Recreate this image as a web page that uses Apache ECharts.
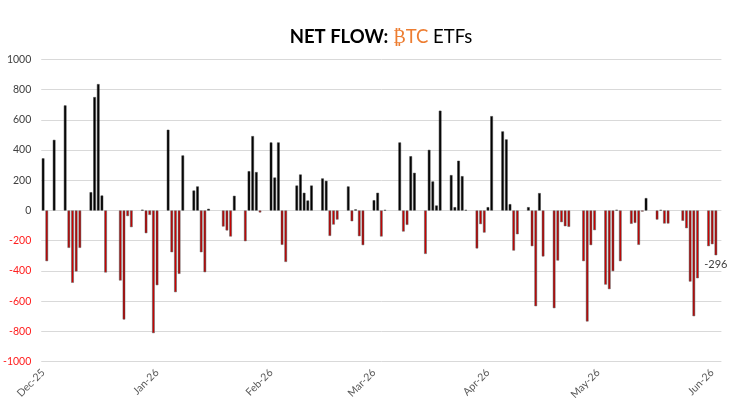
<!DOCTYPE html>
<html>
<head>
<meta charset="utf-8">
<script src="https://cdn.jsdelivr.net/npm/echarts@6/dist/echarts.min.js"></script>
<style>
  html, body { margin: 0; padding: 0; background: #fff; }
  #chart { width: 744px; height: 412px; }
</style>
</head>
<body>
<div id="chart"></div>
<script>
// first calendar day on the axis, and how many days it spans
const startDate = "2025-12-01";
const dayCount = 185;

// day offset (from startDate) of each bar, and its net flow in $M
const dayOffsets = [
  0, 1, 3, 6, 7, 8, 9, 10, 13, 14, 15, 16, 17, 21, 22, 23, 24, 27, 28, 29, 30, 31,
  34, 35, 36, 37, 38, 41, 42, 43, 44, 45, 49, 50, 51, 52, 55, 56, 57, 58, 59,
  62, 63, 64, 65, 66, 69, 70, 71, 72, 73, 76, 77, 78, 79, 80, 83, 84, 85, 86, 87,
  90, 91, 92, 93, 97, 98, 99, 100, 101, 104, 105, 106, 107, 108, 111, 112, 113, 114, 115,
  118, 119, 120, 121, 122, 125, 126, 127, 128, 129, 132, 133, 134, 135, 136,
  139, 140, 141, 142, 143, 147, 148, 149, 150, 153, 154, 155, 156, 157,
  160, 161, 162, 163, 164, 167, 168, 169, 170, 174, 175, 176, 177, 178, 181, 182, 183,
];
const netFlow = [
  345, -335, 467, 695, -247, -478, -403, -247, 121, 750, 836, 99, -410, -463, -721, -37, -110, 5, -150, -29, -811, -494,
  534, -276, -540, -419, 364, 132, 159, -276, -408, 11, -106, -132, -172, 97, -203, 260, 492, 254, -13,
  450, 218, 450, -227, -340, 165, 238, 117, 66, 165, 212, 196, -168, -93, -60, 159, -71, 7, -170, -229,
  68, 117, -172, 3, 450, -139, -95, 359, 249, -287, 401, 192, 33, 660, 234, 22, 329, 227, 3,
  -251, -90, -146, 22, 624, 523, 470, 42, -265, -157, 22, -236, -633, 115, -304,
  -646, -331, -77, -104, -108, -335, -734, -229, -130, -490, -520, -401, 4, -335,
  -88, -82, -227, -7, 82, -60, 3, -86, -86, -68, -117, -470, -699, -448, -236, -223, -296,
];

const monthLabels = ["Dec-25", "Jan-26", "Feb-26", "Mar-26", "Apr-26", "May-26", "Jun-26"];

const yTicks = { min: -1000, max: 1000, step: 200 };

// build the daily category axis
const days = [];
const d0 = new Date(startDate + "T00:00:00Z");
for (let i = 0; i < dayCount; i++) {
  const d = new Date(d0.getTime() + i * 86400000);
  days.push(d.toISOString().slice(0, 10));
}
const monthStarts = days.filter((d) => d.endsWith("-01"));

const negFill = new echarts.graphic.LinearGradient(0, 0, 1, 0, [
  { offset: 0, color: "#6e0000" },
  { offset: 0.5, color: "#d00000" },
  { offset: 1, color: "#6e0000" },
]);

const barData = days.map(() => "-");
dayOffsets.forEach((off, i) => {
  const v = netFlow[i];
  barData[off] = {
    value: v,
    itemStyle: v < 0
      ? { color: negFill, borderColor: "#6b6b6b", borderWidth: 0.5 }
      : { color: "#000", borderColor: "#3a3a3a", borderWidth: 0.5 },
  };
});
// data label on the latest bar
const lastOff = dayOffsets[dayOffsets.length - 1];
barData[lastOff].label = {
  show: true,
  position: "bottom",
  distance: 4,
  color: "#404040",
  fontSize: 11,
  fontFamily: "Lato",
};

const chart = echarts.init(document.getElementById("chart"), null, { renderer: "canvas" });

chart.setOption({
  backgroundColor: "#fff",
  animation: false,
  textStyle: { fontFamily: "Lato" },
  title: {
    text: "{b|NET FLOW: }{o|₿TC}{n| ETFs}",
    left: 376,
    textAlign: "center",
    top: 23,
    textStyle: {
      rich: {
        b: { fontFamily: "Lato", fontWeight: "bold", fontSize: 18.5, color: "#000" },
        o: { fontFamily: "Lato", fontWeight: "normal", fontSize: 18.5, color: "#ed7d31" },
        n: { fontFamily: "Lato", fontWeight: "normal", fontSize: 18.5, color: "#000" },
      },
    },
  },
  grid: { left: 39.2, right: 22.6, top: 59.3, bottom: 50.3 },
  xAxis: {
    type: "category",
    data: days,
    boundaryGap: true,
    axisLine: { show: false, onZero: false },
    axisTick: { show: false },
    splitLine: { show: false },
    axisLabel: {
      interval: (index, value) => value.endsWith("-01"),
      rotate: 45,
      margin: 9,
      color: "#595959",
      fontSize: 10.5,
      fontFamily: "Lato",
      formatter: (value) => monthLabels[monthStarts.indexOf(value)] || "",
    },
  },
  yAxis: {
    type: "value",
    min: yTicks.min,
    max: yTicks.max,
    interval: yTicks.step,
    axisLine: { show: false },
    axisTick: { show: false },
    splitLine: { lineStyle: { color: "#d9d9d9", width: 1 } },
    axisLabel: {
      margin: 10,
      formatter: (value) => (value < 0 ? `{r|${value}}` : `{k|${value}}`),
      rich: {
        r: { color: "#ff2020", fontSize: 10.5, fontFamily: "Lato" },
        k: { color: "#404040", fontSize: 10.5, fontFamily: "Lato" },
      },
    },
  },
  series: [
    {
      type: "bar",
      data: barData,
      barWidth: 2.6,
      barGap: "0%",
    },
  ],
});
</script>
</body>
</html>
